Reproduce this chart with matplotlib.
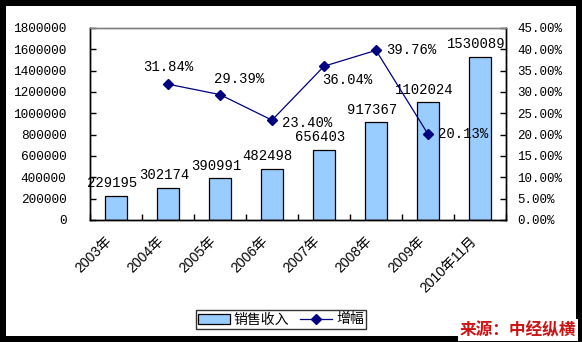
import matplotlib
matplotlib.use("Agg")
import matplotlib.pyplot as plt
import numpy as np
from matplotlib.patches import Rectangle
from matplotlib.ticker import FuncFormatter, MultipleLocator
from matplotlib.transforms import ScaledTranslation

categories = ["2003年", "2004年", "2005年", "2006年", "2007年", "2008年", "2009年", "2010年11月"]
sales = [229195, 302174, 390991, 482498, 656403, 917367, 1102024, 1530089]
growth = [np.nan, 31.84, 29.39, 23.40, 36.04, 39.76, 20.13, np.nan]
# label offsets (points) for growth labels
growth_label_pos = [None, (0, 12, "center"), (14, 11, "center"), (7, -2, "left"),
                    (17, -10, "center"), (7, 0, "left"), (7, 0, "left"), None]

W, H = 582, 342
fig = plt.figure(figsize=(W / 100, H / 100), dpi=100)
fig.patch.set_facecolor("black")
fig.patches.append(Rectangle((6 / W, 6 / H), 570 / W, 330 / H, transform=fig.transFigure,
                             facecolor="white", edgecolor="none", zorder=-5))

L, R, T, B = 90, 506, 28, 220
ax = fig.add_axes([L / W, 1 - B / H, (R - L) / W, (B - T) / H])
ax.set_facecolor("none")
ax2 = ax.twinx()

num_font = ["Liberation Mono", "Noto Sans CJK SC"]
x = np.arange(len(categories))
bars = ax.bar(x, sales, width=0.42, color="#99CCFF", edgecolor="black", linewidth=0.9,
              label="销售收入", zorder=2)
ax.set_xlim(-0.5, len(categories) - 0.5)
ax.set_ylim(0, 1800000)
ax.yaxis.set_major_locator(MultipleLocator(200000))
ax.yaxis.set_major_formatter(FuncFormatter(lambda v, p: f"{int(v)}"))
ax.tick_params(axis="y", direction="in", length=4, width=1, pad=17, labelsize=9.2)
for t in ax.yaxis.get_ticklabels():
    t.set_family(num_font)

ax.set_xticks(x)
ax.set_xticklabels(categories, rotation=45, ha="right", rotation_mode="anchor",
                   family=["Liberation Sans", "Noto Sans CJK SC"], fontsize=10)
ax.tick_params(axis="x", length=0, pad=10)
shift = ScaledTranslation(-11 / 100, 0, fig.dpi_scale_trans)
for t in ax.get_xticklabels():
    t.set_transform(t.get_transform() + shift)
ax.set_xticks(np.arange(-0.5, len(categories) + 0.5, 1), minor=True)
ax.tick_params(axis="x", which="minor", direction="in", length=4, width=1)

for i, v in enumerate(sales):
    ax.annotate(f"{v}", (x[i], v), xytext=(-3, 9), textcoords="offset points",
                ha="center", va="center", fontsize=10, family=num_font, color="black")

ax2.plot(x, np.array(growth) / 100, color="#000080", linewidth=0.9, marker="D",
         markersize=5, label="增幅", zorder=3)
ax2.set_ylim(0, 0.45)
ax2.yaxis.set_major_locator(MultipleLocator(0.05))
ax2.yaxis.set_major_formatter(FuncFormatter(lambda v, p: f"{v*100:.2f}%"))
ax2.tick_params(axis="y", direction="in", length=4, width=1, pad=8, labelsize=9)
for t in ax2.yaxis.get_ticklabels():
    t.set_family(num_font)

for i, g in enumerate(growth):
    if growth_label_pos[i] is None or np.isnan(g):
        continue
    dx, dy, ha = growth_label_pos[i]
    ax2.annotate(f"{g:.2f}%", (x[i], g / 100), xytext=(dx, dy), textcoords="offset points",
                 ha=ha, va="center", fontsize=10, family=num_font, color="black")

for a in (ax, ax2):
    a.spines["top"].set_color("#808080")
    a.spines["left"].set_color("black")
    a.spines["right"].set_color("black")
    a.spines["bottom"].set_color("black")
    for s in a.spines.values():
        s.set_linewidth(1)

h1, l1 = ax.get_legend_handles_labels()
h2, l2 = ax2.get_legend_handles_labels()
leg = fig.legend(h1 + h2, l1 + l2, loc="center", bbox_to_anchor=(281 / W, 1 - 319.5 / H),
                 ncol=2, frameon=True, fancybox=False, edgecolor="black",
                 prop={"family": ["Noto Sans CJK SC"], "size": 10},
                 handlelength=2.3, handletextpad=0.3, columnspacing=0.8,
                 borderpad=0.15, borderaxespad=0)
leg.get_frame().set_linewidth(1)

fig.text(576 / W, 1 - 339 / H, "来源：中经纵横", ha="right", va="bottom", color="#CC1414",
         fontsize=12, fontweight="bold", family=["Noto Sans CJK SC"],
         bbox=dict(facecolor="white", edgecolor="none", pad=1.5), zorder=5)

fig.savefig("out.png", dpi=100, facecolor=fig.get_facecolor())
